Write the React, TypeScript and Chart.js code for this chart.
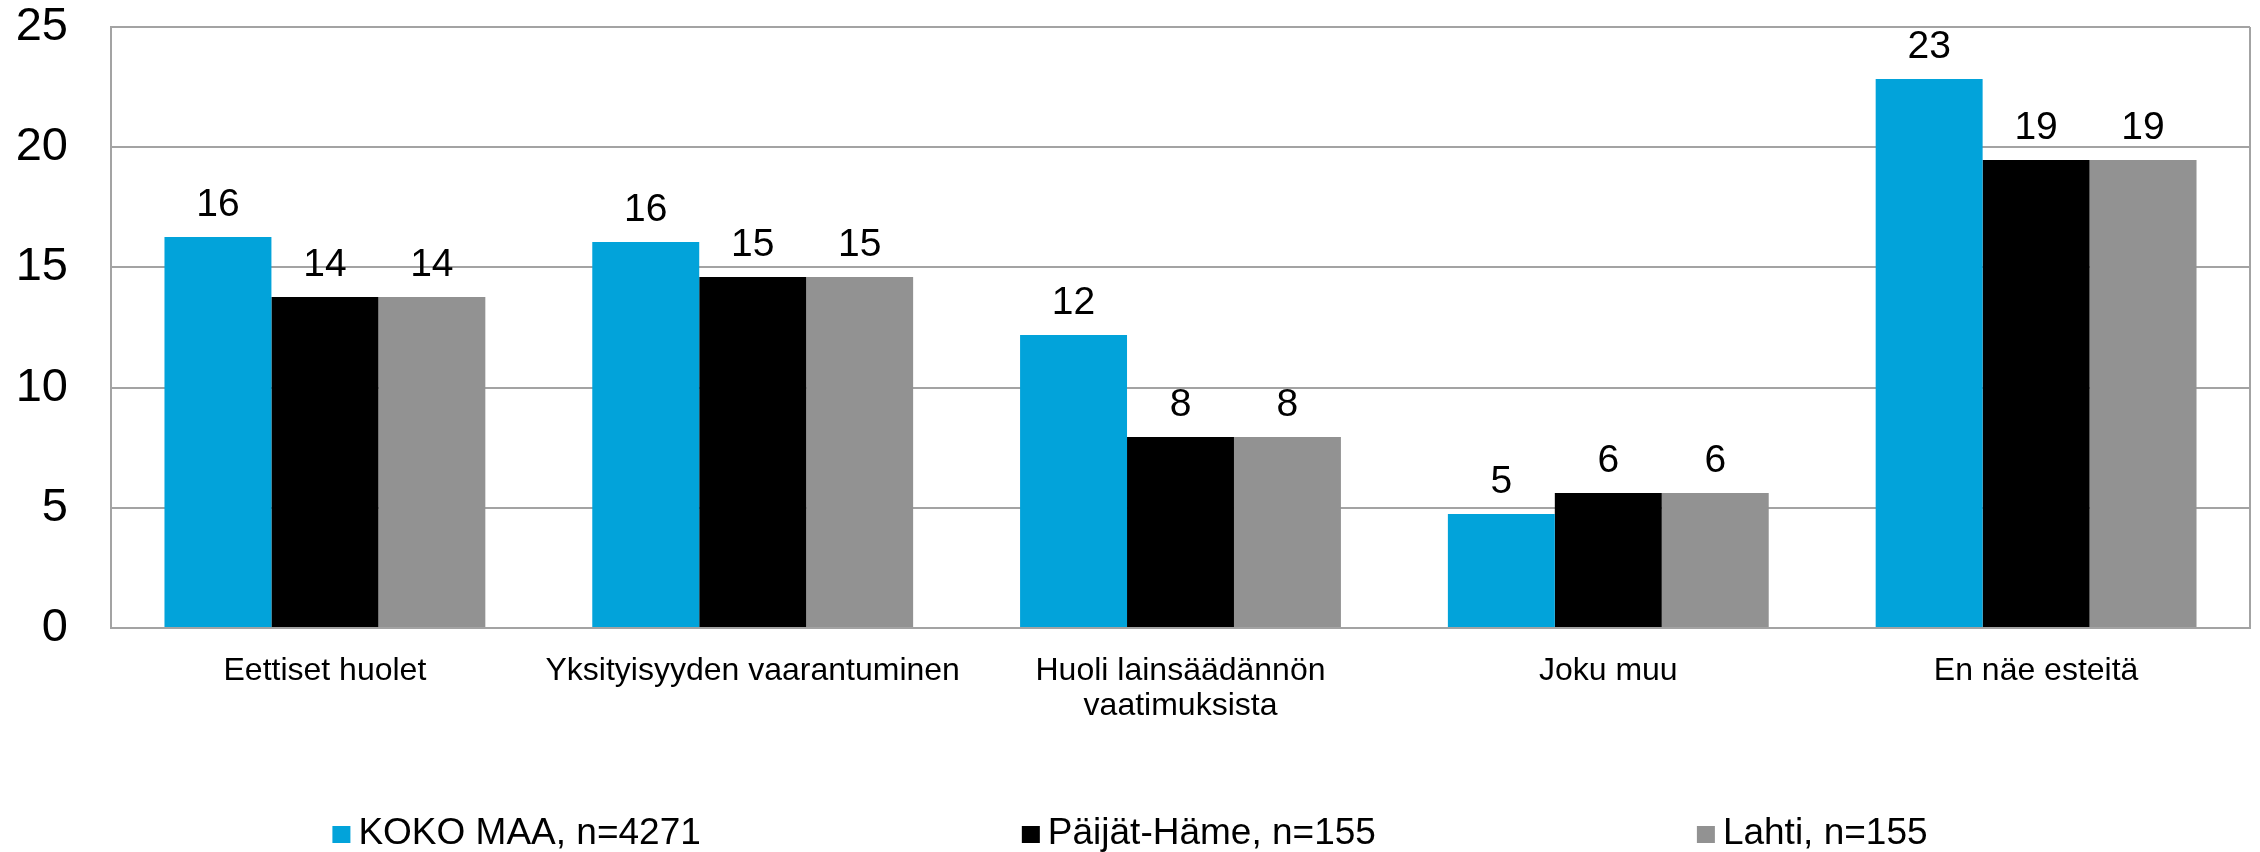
import React, { useEffect, useRef } from 'react';
import { Chart, registerables } from 'chart.js';

Chart.register(...registerables);

const categories: (string | string[])[] = [
  'Eettiset huolet',
  'Yksityisyyden vaarantuminen',
  ['Huoli lainsäädännön', 'vaatimuksista'],
  'Joku muu',
  'En näe esteitä',
];

const kokoMaa = [16.26, 16.06, 12.19, 4.74, 22.84];
const paijatHame = [13.77, 14.6, 7.95, 5.62, 19.47];
const lahti = [13.77, 14.6, 7.95, 5.62, 19.47];

const seriesLabels = ['KOKO MAA, n=4271', 'Päijät-Häme, n=155', 'Lahti, n=155'];
const seriesColors = ['#02A3DA', '#000000', '#929292'];

const yMin = 0;
const yMax = 25;
const yStep = 5;

const FONT = "'Liberation Sans', Arial, sans-serif";
const GRID = '#a3a3a3';

// Draws the y-axis tick labels from the library's own y scale ticks
const yTickLabelPlugin = {
  id: 'yTickLabels',
  afterDraw(chart: any) {
    const ctx = chart.ctx;
    const scale = chart.scales.y;
    ctx.save();
    ctx.font = `47px ${FONT}`;
    ctx.fillStyle = '#000';
    ctx.textAlign = 'right';
    ctx.textBaseline = 'middle';
    scale.ticks.forEach((t: any) => {
      ctx.fillText(String(t.value), chart.chartArea.left - 43, scale.getPixelForValue(t.value));
    });
    ctx.restore();
  },
};

const dataLabelPlugin = {
  id: 'dataLabels',
  afterDatasetsDraw(chart: any) {
    const ctx = chart.ctx;
    ctx.save();
    ctx.font = `39px ${FONT}`;
    ctx.fillStyle = '#000';
    ctx.textAlign = 'center';
    ctx.textBaseline = 'alphabetic';
    chart.data.datasets.forEach((ds: any, di: number) => {
      const meta = chart.getDatasetMeta(di);
      meta.data.forEach((el: any, i: number) => {
        const v = ds.data[i];
        ctx.fillText(String(Math.round(v)), el.x, el.y - 21);
      });
    });
    ctx.restore();
  },
};

const customLegendPlugin = {
  id: 'customLegend',
  afterDraw(chart: any) {
    const ctx = chart.ctx;
    ctx.save();
    ctx.font = `37px ${FONT}`;
    const box = 18;
    const gapBoxText = 8;
    const gapItems = 321;
    const widths = chart.data.datasets.map(
      (ds: any) => box + gapBoxText + ctx.measureText(ds.label).width
    );
    const total = widths.reduce((a: number, b: number) => a + b, 0) + gapItems * (widths.length - 1);
    let x = chart.width / 2 - total / 2;
    const yMid = 834;
    chart.data.datasets.forEach((ds: any, i: number) => {
      ctx.fillStyle = ds.backgroundColor;
      ctx.fillRect(x, yMid - box / 2 + 1, box, box - 1);
      ctx.fillStyle = '#000';
      ctx.textAlign = 'left';
      ctx.textBaseline = 'middle';
      ctx.fillText(ds.label, x + box + gapBoxText, yMid);
      x += widths[i] + gapItems;
    });
    ctx.restore();
  },
};

export default function App() {
  const canvasRef = useRef<HTMLCanvasElement | null>(null);

  useEffect(() => {
    if (!canvasRef.current) return;
    const seriesValues = [kokoMaa, paijatHame, lahti];
    const chart = new Chart(canvasRef.current, {
      type: 'bar',
      data: {
        labels: categories,
        datasets: seriesLabels.map((label, i) => ({
          label,
          data: seriesValues[i],
          backgroundColor: seriesColors[i],
          borderWidth: 0,
          categoryPercentage: 0.75,
          barPercentage: 1.0,
        })),
      },
      options: {
        animation: false,
        responsive: true,
        maintainAspectRatio: false,
        layout: { padding: { left: 111, right: 10, top: 27, bottom: 134 } },
        plugins: {
          legend: { display: false },
          tooltip: { enabled: false },
        },
        scales: {
          x: {
            grid: {
              display: true,
              drawTicks: false,
              offset: true,
              lineWidth: 2,
              color: (c: any) => (c.type === 'tick' && c.index > 0 ? 'rgba(0,0,0,0)' : GRID),
            },
            border: { display: true, color: GRID, width: 2 },
            ticks: {
              color: '#000',
              font: { family: FONT, size: 32, lineHeight: 1.08 },
              padding: 26,
              maxRotation: 0,
              autoSkip: false,
            },
            afterFit: (scale: any) => {
              scale.height = 90;
            },
          },
          y: {
            min: yMin,
            max: yMax,
            grid: { color: GRID, lineWidth: 2, drawTicks: false },
            border: { display: true, color: GRID, width: 2 },
            ticks: {
              stepSize: yStep,
              display: false,
            },
          },
        },
      },
      plugins: [yTickLabelPlugin, dataLabelPlugin, customLegendPlugin],
    });
    return () => chart.destroy();
  }, []);

  return (
    <div
      style={{
        position: 'fixed',
        left: 0,
        top: 0,
        width: 2260,
        height: 852,
        background: '#fff',
      }}
    >
      <canvas ref={canvasRef} />
    </div>
  );
}
